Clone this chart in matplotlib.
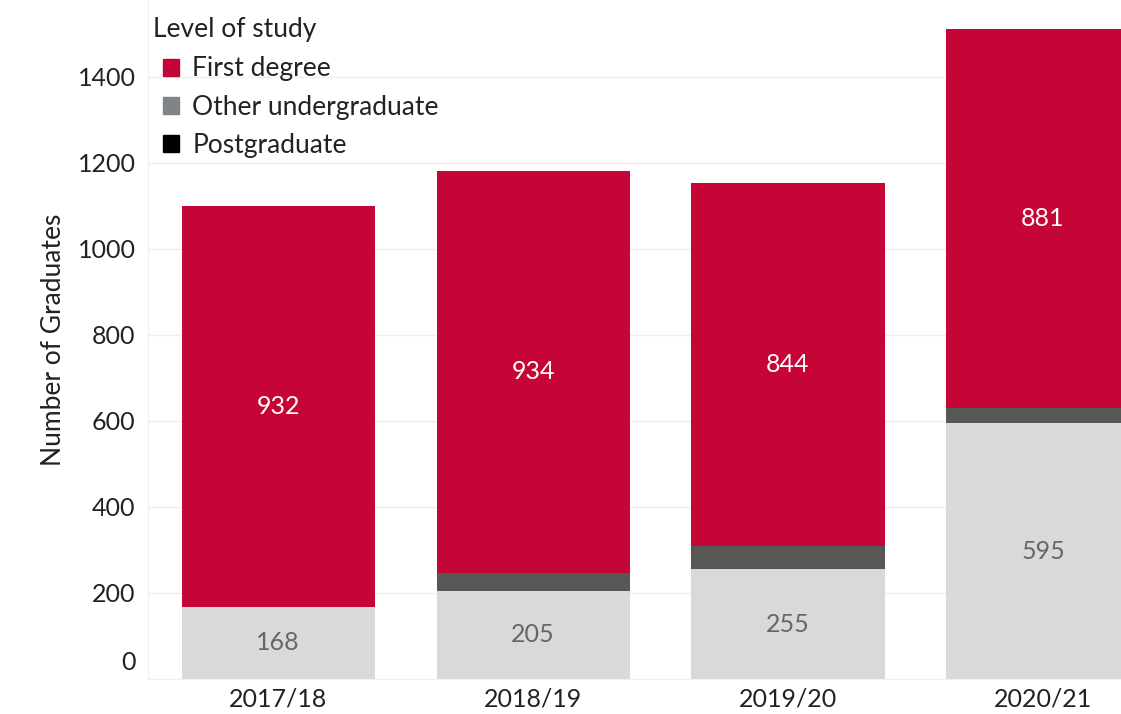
import matplotlib
matplotlib.use("Agg")
import matplotlib.pyplot as plt
import matplotlib.patches as patches
import matplotlib.transforms as mtransforms
import numpy as np

plt.rcParams["font.family"] = ["Lato", "DejaVu Sans"]

years = ["2017/18", "2018/19", "2019/20", "2020/21"]
bottom_vals = [168, 205, 255, 595]
middle_vals = [0, 42, 54, 35]
first_degree = [932, 934, 844, 881]

legend_labels = ["First degree", "Other undergraduate", "Postgraduate"]
legend_colors = ["#C40535", "#7F8489", "#000000"]

RED = "#C40535"
DARK = "#575756"
LIGHT = "#D9D9D9"
TEXT = "#222222"

W, H = 1121, 714
fig = plt.figure(figsize=(W / 100, H / 100), dpi=100)
ax = fig.add_axes([148 / W, 35 / H, 1 - 148 / W, 679 / H])

x = np.arange(len(years))
width = 0.757
bottom = np.array(bottom_vals)
middle = np.array(middle_vals)
top = np.array(first_degree)

ax.bar(x, bottom, width, color=LIGHT, zorder=2)
ax.bar(x, middle, width, bottom=bottom, color=DARK, zorder=2)
ax.bar(x, top, width, bottom=bottom + middle, color=RED, zorder=2)

for i in range(len(years)):
    ax.text(x[i], bottom[i] / 2, str(bottom_vals[i]), ha="center", va="center",
            fontsize=18, color="#666666", zorder=3)
    ax.text(x[i], bottom[i] + middle[i] + top[i] / 2, str(first_degree[i]),
            ha="center", va="center", fontsize=18, color="white", zorder=3)

ax.set_xlim(-0.51, 3.306)
ax.set_ylim(0, 1579)
ax.set_yticks(np.arange(0, 1401, 200))
ax.set_xticks(x)
ax.set_xticklabels(years)
ax.tick_params(axis="both", length=0, labelsize=18, colors=TEXT)
ax.tick_params(axis="y", pad=9)
ax.tick_params(axis="x", pad=6)
ax.grid(axis="y", color="#EFEFEF", linewidth=1, zorder=0)
ax.set_axisbelow(True)

for side in ["top", "right"]:
    ax.spines[side].set_visible(False)
ax.spines["left"].set_color("#F0F0F0")
ax.spines["bottom"].set_color("#F0F0F0")

# lift the zero label a little above the baseline
zero_label = ax.yaxis.get_major_ticks()[0].label1
zero_label.set_transform(zero_label.get_transform() +
                         mtransforms.ScaledTranslation(0, 19 / 100, fig.dpi_scale_trans))

ax.set_ylabel("Number of Graduates", fontsize=19, color=TEXT, labelpad=8)

# legend title sits slightly left of the swatches
fig.text(153 / W, 1 - 30 / H, "Level of study", fontsize=19, color=TEXT,
         ha="left", va="center")
handles = [patches.Patch(color=c, label=l) for c, l in zip(legend_colors, legend_labels)]
leg = fig.legend(handles=handles, loc="upper left",
                 bbox_to_anchor=(145 / W, 1 - 38 / H), frameon=False,
                 fontsize=19, handlelength=0.6, handleheight=0.6,
                 handletextpad=0.5, labelspacing=0.5, borderpad=0.2)
for t in leg.get_texts():
    t.set_color(TEXT)

fig.savefig("out.png", dpi=100)
